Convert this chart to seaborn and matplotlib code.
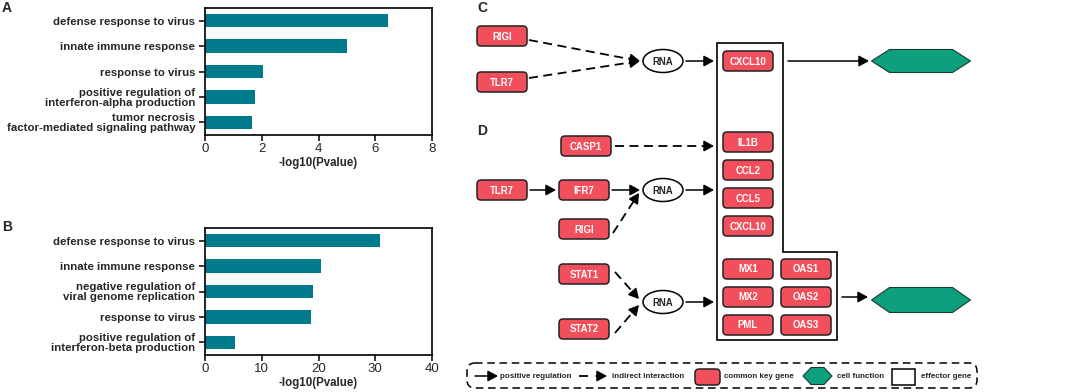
import numpy as np
import pandas as pd
import matplotlib
matplotlib.use("Agg")
import matplotlib.pyplot as plt
import seaborn as sns
from matplotlib.patches import FancyBboxPatch, Ellipse, Polygon

# ---------------- data ----------------
terms_A = ["defense response to virus", "innate immune response", "response to virus",
           "positive regulation of\ninterferon-alpha production",
           "tumor necrosis\nfactor-mediated signaling pathway"]
vals_A = [6.45, 5.0, 2.03, 1.76, 1.65]

terms_B = ["defense response to virus", "innate immune response",
           "negative regulation of\nviral genome replication", "response to virus",
           "positive regulation of\ninterferon-beta production"]
vals_B = [30.9, 20.5, 19.0, 18.6, 5.2]

c_sources = ["RIGI", "TLR7"]
c_effectors = ["CXCL10"]
d_sources = ["CASP1", "TLR7", "IFR7", "RIGI", "STAT1", "STAT2"]
d_effectors_col1 = ["IL1B", "CCL2", "CCL5", "CXCL10", "MX1", "MX2", "PML"]
d_effectors_col2 = ["OAS1", "OAS2", "OAS3"]
legend_labels = ["positive regulation", "indirect interaction", "common key gene",
                 "cell function", "effector gene"]

# ---------------- style ----------------
sns.set_style("ticks")
plt.rcParams['font.family'] = ['Liberation Sans', 'DejaVu Sans']
TEAL = "#007b8c"
RED = "#f24f5c"
GREEN = "#0e9f7e"

W, H = 1065, 392
fig = plt.figure(figsize=(W / 100, H / 100), dpi=100)


def px_axes(x0, y0, x1, y1):
    return fig.add_axes([x0 / W, 1 - y1 / H, (x1 - x0) / W, (y1 - y0) / H])


def bar_panel(ax, terms, vals, xmax, step):
    df = pd.DataFrame({"term": terms, "val": vals})
    sns.barplot(data=df, x="val", y="term", orient="h", color=TEAL, saturation=1,
                width=0.52, ax=ax, linewidth=0)
    ax.set_xlim(0, xmax)
    ax.set_xticks(np.arange(0, xmax + 1e-9, step))
    ax.set_ylabel("")
    ax.set_xlabel("-log10(Pvalue)", fontsize=8.3, fontweight="bold", labelpad=2)
    for s in ax.spines.values():
        s.set_visible(True)
        s.set_linewidth(1.2)
        s.set_color("black")
    ax.tick_params(axis="both", direction="out", length=4, width=1.1, color="black")
    ax.tick_params(axis="x", labelsize=9.5, pad=1.5)
    ax.tick_params(axis="y", labelsize=8.2, pad=3)
    for t in ax.get_yticklabels():
        t.set_fontweight("bold")
        t.set_linespacing(1.0)


axA = px_axes(205, 8, 432, 135)
bar_panel(axA, terms_A, vals_A, 8, 2)
axB = px_axes(205, 228, 432, 355)
bar_panel(axB, terms_B, vals_B, 40, 10)

# ---------------- diagram overlay ----------------
ov = fig.add_axes([0, 0, 1, 1])
ov.set_xlim(0, W)
ov.set_ylim(H, 0)
ov.axis("off")

for lab, (x, y) in {"A": (2, 8), "B": (2, 227), "C": (477, 8), "D": (477, 131)}.items():
    ov.text(x, y, lab, fontsize=10, fontweight="bold", ha="left", va="center")

BW, BH = 50, 20


def gene(x, y, name, w=BW, h=BH):
    ov.add_patch(FancyBboxPatch((x - w / 2, y - h / 2), w, h,
                                boxstyle="round,pad=0,rounding_size=4",
                                fc=RED, ec="#222222", lw=1.1, zorder=3))
    ov.text(x, y + 0.5, name, color="white", fontsize=6.9, fontweight="bold",
            ha="center", va="center", zorder=4)


def rna(x, y):
    ov.add_patch(Ellipse((x, y), 40, 23, fc="white", ec="black", lw=1.1, zorder=3))
    ov.text(x, y + 0.5, "RNA", fontsize=6.9, fontweight="bold", ha="center",
            va="center", zorder=4)


def hexagon(x, y, w=99, h=23, tip=18):
    pts = [(x - w / 2, y), (x - w / 2 + tip, y - h / 2), (x + w / 2 - tip, y - h / 2),
           (x + w / 2, y), (x + w / 2 - tip, y + h / 2), (x - w / 2 + tip, y + h / 2)]
    ov.add_patch(Polygon(pts, closed=True, fc=GREEN, ec="#1a3a30", lw=0.8, zorder=3))


def arrow(p0, p1, dashed=False):
    p0 = np.array(p0, float)
    p1 = np.array(p1, float)
    if dashed:
        u = (p1 - p0) / np.linalg.norm(p1 - p0)
        pb = p1 - u * 8
        ov.plot([p0[0], pb[0]], [p0[1], pb[1]], color="black", lw=1.3,
                dashes=(5, 3), solid_capstyle="butt", zorder=2)
        ov.annotate("", xy=p1, xytext=pb,
                    arrowprops=dict(arrowstyle="-|>,head_length=0.55,head_width=0.3",
                                    color="black", lw=1.1, shrinkA=0, shrinkB=0,
                                    mutation_scale=11), zorder=2)
    else:
        ov.annotate("", xy=p1, xytext=p0,
                    arrowprops=dict(arrowstyle="-|>,head_length=0.55,head_width=0.3",
                                    color="black", lw=1.1, shrinkA=0, shrinkB=0,
                                    mutation_scale=11), zorder=2)


# effector box (shared by C and D)
box_pts = [(717, 43), (783, 43), (783, 252), (837, 252), (837, 340), (717, 340)]
ov.add_patch(Polygon(box_pts, closed=True, fc="white", ec="black", lw=1.2, zorder=1))

# panel C
c_pos = {"RIGI": (502, 36), "TLR7": (502, 82)}
for g in c_sources:
    gene(*c_pos[g], g)
rna(663, 61)
for g in c_effectors:
    gene(748, 61, g)
hexagon(921, 61)
arrow((529, 40), (640, 61), dashed=True)
arrow((529, 78), (640, 61), dashed=True)
arrow((686, 61), (714, 61))
arrow((788, 61), (869, 61))

# panel D
d_pos = {"CASP1": (586, 146), "TLR7": (502, 190), "IFR7": (584, 190),
         "RIGI": (584, 229), "STAT1": (584, 274), "STAT2": (584, 329)}
for g in d_sources:
    gene(*d_pos[g], g)
col1_y = [142, 170, 198, 226, 269, 297, 325]
for g, y in zip(d_effectors_col1, col1_y):
    gene(748, y, g)
for g, y in zip(d_effectors_col2, col1_y[4:]):
    gene(806, y, g)
rna(663, 190)
rna(663, 302)
hexagon(921, 300, h=25)

arrow((615, 146), (714, 146), dashed=True)
arrow((530, 190), (556, 190))
arrow((612, 190), (640, 190))
arrow((613, 233), (639, 193), dashed=True)
arrow((686, 190), (714, 190))
arrow((615, 272), (639, 299), dashed=True)
arrow((615, 333), (639, 305), dashed=True)
arrow((686, 302), (714, 302))
arrow((842, 297), (868, 297))

# legend
ov.add_patch(FancyBboxPatch((467, 363), 510, 25, boxstyle="round,pad=0,rounding_size=8",
                            fc="none", ec="black", lw=1.1, ls=(0, (5, 3)), zorder=1))
ly = 376
lfs = 5.8
arrow((475, ly), (498, ly))
ov.text(500, ly, legend_labels[0], fontsize=lfs, fontweight="bold", va="center", ha="left")
ov.plot([579, 588], [ly, ly], color="black", lw=1.3, solid_capstyle="butt")
arrow((596, ly), (607, ly))
ov.text(612, ly, legend_labels[1], fontsize=lfs, fontweight="bold", va="center", ha="left")
ov.add_patch(FancyBboxPatch((695, 369), 25, 16, boxstyle="round,pad=0,rounding_size=4",
                            fc=RED, ec="#222222", lw=1.1, zorder=3))
ov.text(724, ly, legend_labels[2], fontsize=lfs, fontweight="bold", va="center", ha="left")
hexagon(817.5, ly, w=29, h=17, tip=8)
ov.text(837, ly, legend_labels[3], fontsize=lfs, fontweight="bold", va="center", ha="left")
ov.add_patch(plt.Rectangle((892, 369), 23, 16, fc="white", ec="black", lw=1.1, zorder=3))
ov.text(921, ly, legend_labels[4], fontsize=lfs, fontweight="bold", va="center", ha="left")

fig.savefig("out.png", dpi=100)
